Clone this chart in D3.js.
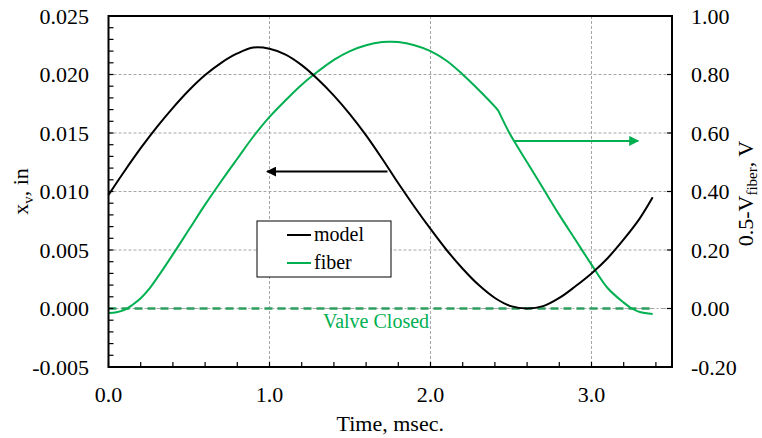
<!DOCTYPE html>
<html>
<head>
<meta charset="utf-8">
<script src="https://cdn.jsdelivr.net/npm/d3@7"></script>
<style>
  html, body { margin: 0; padding: 0; background: #fff; }
  svg text { font-family: "Liberation Serif", "Times New Roman", serif; }
</style>
</head>
<body>
<svg id="chart" width="762" height="438"></svg>
<script>
// Valve lift (model) and fiber-optic signal versus time
const timeModel = [0.0,0.1,0.2,0.3,0.4,0.5,0.6,0.7,0.8,0.9,1.0,1.1,1.2,1.3,1.4,1.5,1.6,1.7,1.8,1.9,2.0,2.1,2.2,2.3,2.4,2.5,2.6,2.7,2.8,2.9,3.0,3.1,3.2,3.3,3.38];
const liftModel = [0.0097,0.01175,0.0137,0.0155,0.01715,0.01865,0.01995,0.0210,0.0218,0.0223,0.0222,0.0217,0.0208,0.0196,0.0182,0.0166,0.0148,0.0128,0.0107,0.0087,0.0068,0.0050,0.0034,0.0020,0.0009,0.0002,0.0000,0.0002,0.0009,0.0019,0.0030,0.0043,0.0059,0.0077,0.0095];

const timeFiber = [0.0,0.05,0.1,0.15,0.2,0.25,0.3,0.4,0.5,0.6,0.7,0.8,0.9,1.0,1.1,1.2,1.3,1.4,1.5,1.6,1.7,1.75,1.8,1.9,2.0,2.1,2.2,2.3,2.4,2.42,2.44,2.49,2.6,2.7,2.8,2.9,3.0,3.1,3.2,3.25,3.3,3.38];
const fiberSignal = [-0.015,-0.013,-0.005,0.013,0.035,0.065,0.103,0.185,0.27,0.355,0.435,0.512,0.588,0.655,0.712,0.765,0.81,0.85,0.88,0.90,0.911,0.912,0.911,0.90,0.88,0.847,0.80,0.747,0.69,0.677,0.655,0.60,0.50,0.41,0.32,0.235,0.15,0.07,0.02,0.0,-0.012,-0.019];

const xTicks = [0, 1, 2, 3];
const leftTicks = [-0.005, 0.000, 0.005, 0.010, 0.015, 0.020, 0.025];
const rightTicks = [-0.20, 0.00, 0.20, 0.40, 0.60, 0.80, 1.00];
const valveClosedEnd = 3.38;

const svg = d3.select("#chart");
const L = 108.5, R = 672, T = 16, B = 367;

const x = d3.scaleLinear().domain([0, 3.5]).range([L, R]);
const yL = d3.scaleLinear().domain([-0.005, 0.025]).range([B, T]);
const yR = d3.scaleLinear().domain([-0.2, 1.0]).range([B, T]);

const green = "#00b050";
const grid = "#a6a6a6";
// plain hyphen for negative numbers
const fmt = p => d => d3.format(p)(d).replace("\u2212", "-");

// grid lines
const g = svg.append("g");
g.selectAll(".vg").data(xTicks.filter(d => d > 0)).join("line")
  .attr("x1", d => x(d)).attr("x2", d => x(d)).attr("y1", T).attr("y2", B)
  .attr("stroke", grid).attr("stroke-width", 1).attr("stroke-dasharray", "3,2");
g.selectAll(".hg").data(leftTicks.filter(d => d > -0.005 && d < 0.025)).join("line")
  .attr("x1", L).attr("x2", R).attr("y1", d => yL(d)).attr("y2", d => yL(d))
  .attr("stroke", grid).attr("stroke-width", 1)
  .attr("stroke-dasharray", d => d === 0 ? "6,2,2,2" : "3,2");

// valve closed reference line
svg.append("line")
  .attr("x1", x(0)).attr("x2", x(valveClosedEnd))
  .attr("y1", yL(0)).attr("y2", yL(0))
  .attr("stroke", "#2e9e5e").attr("stroke-width", 2.6).attr("stroke-dasharray", "8,5");

svg.append("text").attr("x", 376).attr("y", 328).attr("text-anchor", "middle")
  .attr("font-size", 20).attr("fill", green).text("Valve Closed");

// curves
const lineModel = d3.line().x((d, i) => x(timeModel[i])).y(d => yL(d)).curve(d3.curveCatmullRom.alpha(0.5));
const lineFiber = d3.line().x((d, i) => x(timeFiber[i])).y(d => yR(d)).curve(d3.curveCatmullRom.alpha(0.5));

svg.append("path").attr("d", lineFiber(fiberSignal))
  .attr("fill", "none").attr("stroke", green).attr("stroke-width", 2);
svg.append("path").attr("d", lineModel(liftModel))
  .attr("fill", "none").attr("stroke", "#000").attr("stroke-width", 2);

// axis-pointer arrows
const defs = svg.append("defs");
function marker(id, color) {
  defs.append("marker").attr("id", id).attr("viewBox", "0 0 10 10")
    .attr("refX", 9).attr("refY", 5).attr("markerWidth", 5).attr("markerHeight", 5)
    .attr("markerUnits", "strokeWidth").attr("orient", "auto")
    .append("path").attr("d", "M0,0 L10,5 L0,10 Z").attr("fill", color);
}
marker("ah-black", "#000");
marker("ah-green", green);
svg.append("line").attr("x1", x(1.733)).attr("x2", x(0.985))
  .attr("y1", yL(0.0117)).attr("y2", yL(0.0117))
  .attr("stroke", "#000").attr("stroke-width", 2).attr("marker-end", "url(#ah-black)");
svg.append("line").attr("x1", x(2.52)).attr("x2", x(3.29))
  .attr("y1", yR(0.573)).attr("y2", yR(0.573))
  .attr("stroke", green).attr("stroke-width", 2).attr("marker-end", "url(#ah-green)");

// frame
svg.append("rect").attr("x", L).attr("y", T).attr("width", R - L).attr("height", B - T)
  .attr("fill", "none").attr("stroke", "#000").attr("stroke-width", 2);

// minor / major ticks (inside)
const xMinor = d3.range(0, 3.5001, 0.2);
svg.selectAll(".xt").data(xMinor).join("line")
  .attr("x1", d => x(d)).attr("x2", d => x(d)).attr("y1", B).attr("y2", B - 5)
  .attr("stroke", "#000").attr("stroke-width", 1.2);
const yMinor = d3.range(-0.005, 0.02501, 0.001);
svg.selectAll(".ylt").data(yMinor).join("line")
  .attr("x1", L).attr("x2", L + 5).attr("y1", d => yL(d)).attr("y2", d => yL(d))
  .attr("stroke", "#000").attr("stroke-width", 1.2);
svg.selectAll(".yrt").data(rightTicks).join("line")
  .attr("x1", R).attr("x2", R - 5).attr("y1", d => yR(d)).attr("y2", d => yR(d))
  .attr("stroke", "#000").attr("stroke-width", 1.2);

// tick labels
svg.selectAll(".xl").data(xTicks).join("text")
  .attr("x", d => x(d)).attr("y", 402).attr("text-anchor", "middle")
  .attr("font-size", 22).text(fmt(".1f"));
svg.selectAll(".yll").data(leftTicks).join("text")
  .attr("x", 89).attr("y", d => yL(d)).attr("dy", "0.35em").attr("text-anchor", "end")
  .attr("font-size", 22).text(fmt(".3f"));
svg.selectAll(".yrl").data(rightTicks).join("text")
  .attr("x", 691).attr("y", d => yR(d)).attr("dy", "0.35em").attr("text-anchor", "start")
  .attr("font-size", 22).text(fmt(".2f"));

// axis titles
svg.append("text").attr("x", (L + R) / 2).attr("y", 431).attr("text-anchor", "middle")
  .attr("font-size", 22).text("Time, msec.");

const lt = svg.append("text").attr("transform", `translate(28,${(T + B) / 2}) rotate(-90)`)
  .attr("text-anchor", "middle").attr("font-size", 22);
lt.append("tspan").text("x");
lt.append("tspan").attr("font-size", 15).attr("dy", 5).text("v");
lt.append("tspan").attr("dy", -5).text(", in");

const rt = svg.append("text").attr("transform", `translate(753,${(T + B) / 2 + 2}) rotate(-90)`)
  .attr("text-anchor", "middle").attr("font-size", 22);
rt.append("tspan").text("0.5-V");
rt.append("tspan").attr("font-size", 15).attr("dy", 4).text("fiber");
rt.append("tspan").attr("dy", -4).text(", V");

// legend
const leg = svg.append("g");
leg.append("rect").attr("x", 257).attr("y", 221).attr("width", 134).attr("height", 56)
  .attr("fill", "#fff").attr("stroke", "#000").attr("stroke-width", 1);
const legendItems = [["model", "#000"], ["fiber", green]];
legendItems.forEach(([name, color], i) => {
  const yy = 235 + i * 28;
  leg.append("line").attr("x1", 287).attr("x2", 311).attr("y1", yy).attr("y2", yy)
    .attr("stroke", color).attr("stroke-width", 2);
  leg.append("text").attr("x", 314).attr("y", yy).attr("dy", "0.32em")
    .attr("font-size", 20).text(name);
});
</script>
</body>
</html>
